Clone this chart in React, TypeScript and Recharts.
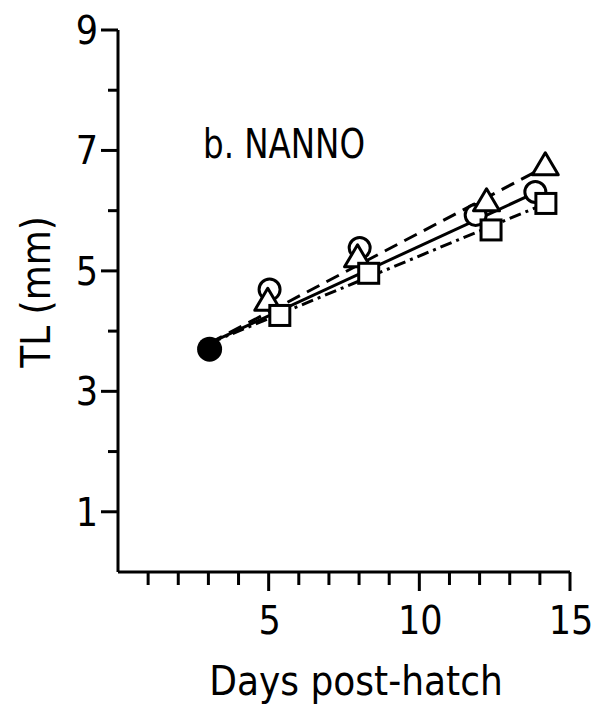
import React from 'react';
import {
  ComposedChart,
  Line,
  Scatter,
  XAxis,
  YAxis,
} from 'recharts';

// Days post-hatch tick values and which of them carry a label
const xTicks = [1, 2, 3, 4, 5, 6, 7, 8, 9, 10, 11, 12, 13, 14, 15];
const xLabelled = [5, 10, 15];
const yTicks = [1, 2, 3, 4, 5, 6, 7, 8, 9];
const yLabelled = [1, 3, 5, 7, 9];

// Start value (filled circle, day 3)
const startPoint = [{ day: 3.04, tl: 3.7 }];

// Treatment means (markers are slightly offset in x)
const circleDays = [5.03, 8.02, 11.87, 13.85];
const circleTL = [4.69, 5.38, 5.93, 6.31];
const triangleDays = [4.97, 7.95, 12.23, 14.18];
const triangleTL = [4.48, 5.2, 6.13, 6.73];
const squareDays = [5.37, 8.32, 12.38, 14.2];
const squareTL = [4.26, 4.96, 5.68, 6.12];

// Fitted growth lines (end points)
const solidFitDays = [3.04, 13.85];
const solidFitTL = [3.8, 6.3];
const dashedFitDays = [3.04, 14.18];
const dashedFitTL = [3.8, 6.73];
const dashDotFitDays = [3.04, 14.2];
const dashDotFitTL = [3.8, 6.12];

const zip = (days: number[], tl: number[]) => days.map((d, i) => ({ day: d, tl: tl[i] }));

const FONT = '"DejaVu Sans Condensed", "DejaVu Sans", sans-serif';
const INK = '#000';

function XTick({ x, y, payload }: any) {
  const v = payload.value;
  const major = xLabelled.includes(v);
  return (
    <g>
      <line x1={x} y1={y} x2={x} y2={y + (major ? 19 : 13)} stroke={INK} strokeWidth={3} />
      {major && (
        <text x={x + 1} y={y + 62} textAnchor="middle" fontSize={39} fontFamily={FONT} fill={INK}>
          {v}
        </text>
      )}
    </g>
  );
}

function YTick({ x, y, payload }: any) {
  const v = payload.value;
  const major = yLabelled.includes(v);
  return (
    <g>
      <line x1={x - (major ? 17 : 10)} y1={y} x2={x} y2={y} stroke={INK} strokeWidth={3} />
      {major && (
        <text x={x - 20} y={y} dy="0.36em" textAnchor="end" fontSize={39} fontFamily={FONT} fill={INK}>
          {v}
        </text>
      )}
    </g>
  );
}

const OpenCircle = ({ cx, cy }: any) => (
  <circle cx={cx} cy={cy} r={10.5} fill="#fff" stroke={INK} strokeWidth={3} />
);
const FilledCircle = ({ cx, cy }: any) => <circle cx={cx} cy={cy} r={12.5} fill={INK} />;
const OpenTriangle = ({ cx, cy }: any) => (
  <polygon
    points={`${cx},${cy - 14} ${cx + 13},${cy + 8} ${cx - 13},${cy + 8}`}
    fill="#fff"
    stroke={INK}
    strokeWidth={3}
    strokeLinejoin="round"
  />
);
const OpenSquare = ({ cx, cy }: any) => (
  <rect x={cx - 10} y={cy - 10} width={20} height={20} fill="#fff" stroke={INK} strokeWidth={3} />
);

export default function App() {
  return (
    <div style={{ position: 'absolute', left: 0, top: 0, background: '#fff' }}>
      <ComposedChart
        width={595}
        height={709}
        margin={{ top: 30, right: 25, bottom: 37, left: 38 }}
      >
        <XAxis
          type="number"
          dataKey="day"
          domain={[0, 15]}
          ticks={xTicks}
          interval={0}
          height={100}
          tickSize={0}
          tickMargin={0}
          tickLine={false}
          axisLine={{ stroke: INK, strokeWidth: 3 }}
          tick={<XTick />}
          allowDataOverflow
          label={{
            content: ({ viewBox }: any) => (
              <text
                x={viewBox.x + viewBox.width / 2 + 12}
                y={viewBox.y + 123}
                textAnchor="middle"
                fontSize={40}
                fontFamily={FONT}
                fill={INK}
              >
                Days post-hatch
              </text>
            ),
          }}
        />
        <YAxis
          type="number"
          dataKey="tl"
          domain={[0, 9]}
          ticks={yTicks}
          interval={0}
          width={80}
          tickSize={0}
          tickMargin={0}
          tickLine={false}
          axisLine={{ stroke: INK, strokeWidth: 3 }}
          tick={<YTick />}
          allowDataOverflow
          label={{
            content: ({ viewBox }: any) => {
              const lx = viewBox.x + 12;
              const ly = viewBox.y + viewBox.height / 2 - 9;
              return (
                <text
                  x={lx}
                  y={ly}
                  transform={`rotate(-90, ${lx}, ${ly})`}
                  textAnchor="middle"
                  fontSize={40}
                  fontFamily={FONT}
                  fill={INK}
                >
                  TL (mm)
                </text>
              );
            },
          }}
        />

        <text
          x={203}
          y={158}
          fontSize={40}
          fontFamily={FONT}
          fill={INK}
          textLength={162}
          lengthAdjust="spacingAndGlyphs"
        >
          b. NANNO
        </text>

        <Line
          data={zip(solidFitDays, solidFitTL)}
          dataKey="tl"
          stroke={INK}
          strokeWidth={3}
          dot={false}
          activeDot={false}
          isAnimationActive={false}
        />
        <Line
          data={zip(dashedFitDays, dashedFitTL)}
          dataKey="tl"
          stroke={INK}
          strokeWidth={3}
          strokeDasharray="14 8"
          dot={false}
          activeDot={false}
          isAnimationActive={false}
        />
        <Line
          data={zip(dashDotFitDays, dashDotFitTL)}
          dataKey="tl"
          stroke={INK}
          strokeWidth={3}
          strokeDasharray="12 5 3 5"
          dot={false}
          activeDot={false}
          isAnimationActive={false}
        />

        <Scatter data={startPoint} dataKey="tl" shape={<FilledCircle />} isAnimationActive={false} />
        <Scatter data={zip(circleDays, circleTL)} dataKey="tl" shape={<OpenCircle />} isAnimationActive={false} />
        <Scatter data={zip(triangleDays, triangleTL)} dataKey="tl" shape={<OpenTriangle />} isAnimationActive={false} />
        <Scatter data={zip(squareDays, squareTL)} dataKey="tl" shape={<OpenSquare />} isAnimationActive={false} />
      </ComposedChart>
    </div>
  );
}
